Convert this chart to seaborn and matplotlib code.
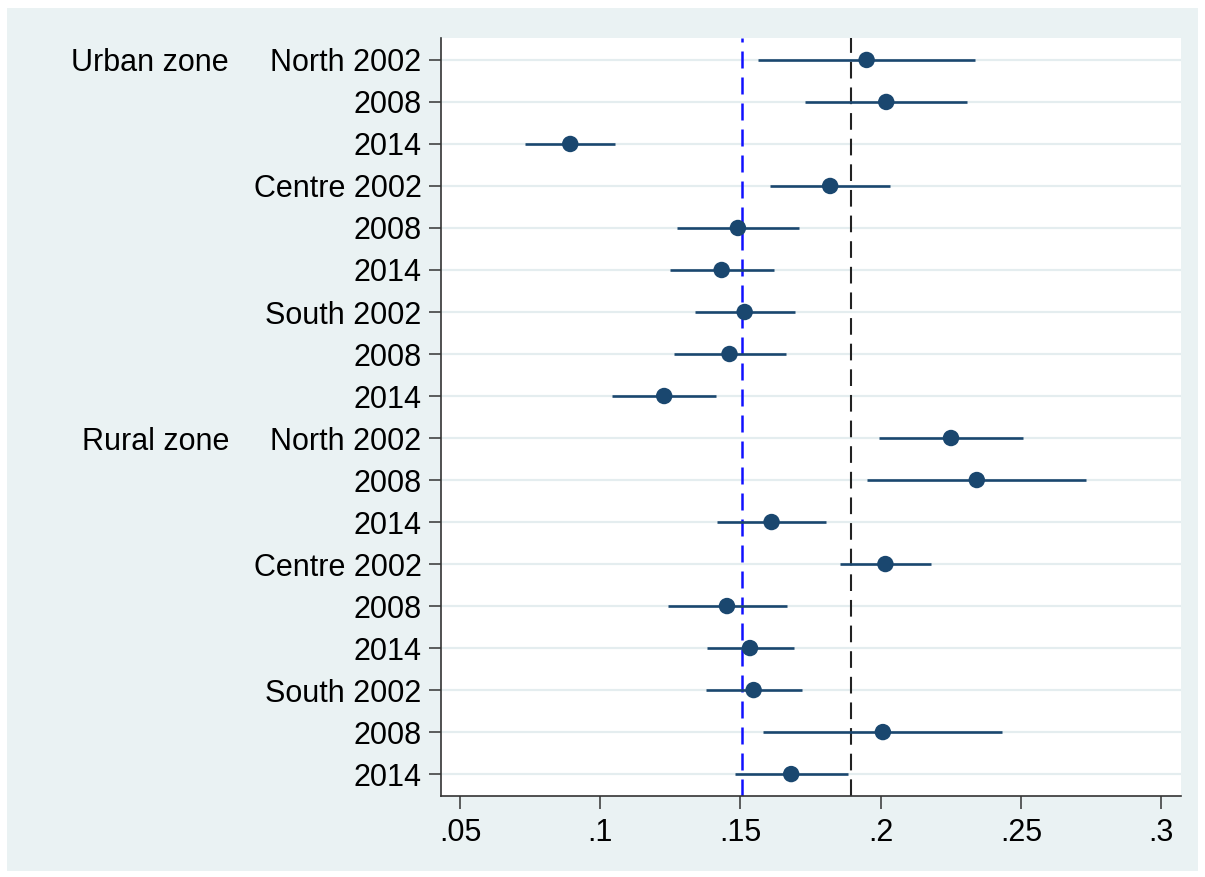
import numpy as np
import pandas as pd
import seaborn as sns
import matplotlib.pyplot as plt
from matplotlib.patches import Rectangle
from matplotlib.transforms import blended_transform_factory

# Estimates and 95% CI bounds (top to bottom)
zones = ['Urban zone'] * 9 + ['Rural zone'] * 9
labels = ['North 2002', '2008', '2014', 'Centre 2002', '2008', '2014',
          'South 2002', '2008', '2014'] * 2
estimate = [0.1950, 0.2020, 0.0893, 0.1820, 0.1491, 0.1433, 0.1515, 0.1461, 0.1228,
            0.2251, 0.2343, 0.1611, 0.2017, 0.1452, 0.1534, 0.1547, 0.2008, 0.1681]
ci_low = [0.1564, 0.1732, 0.0730, 0.1606, 0.1275, 0.1249, 0.1338, 0.1264, 0.1043,
          0.1994, 0.1952, 0.1417, 0.1855, 0.1242, 0.1382, 0.1378, 0.1581, 0.1479]
ci_high = [0.2336, 0.2307, 0.1054, 0.2034, 0.1708, 0.1619, 0.1696, 0.1661, 0.1413,
           0.2509, 0.2733, 0.1804, 0.2180, 0.1666, 0.1690, 0.1718, 0.2433, 0.1884]
ref_blue = 0.1506
ref_black = 0.1896
xticks = [0.05, 0.1, 0.15, 0.2, 0.25, 0.3]
xtick_labels = ['.05', '.1', '.15', '.2', '.25', '.3']

df = pd.DataFrame({'zone': zones, 'label': labels, 'est': estimate,
                   'lo': ci_low, 'hi': ci_high})
df['row'] = np.arange(len(df))

sns.set_style('white')
plt.rcParams['font.family'] = ['Liberation Sans', 'DejaVu Sans']

navy = '#1A476F'
bg = '#EAF2F3'
fs = 22

fig = plt.figure(figsize=(12.05, 8.77), dpi=100, facecolor='white')
bg_rect = Rectangle((7 / 1205, 6 / 877), 1191 / 1205, 863 / 877,
                    transform=fig.transFigure, facecolor=bg,
                    edgecolor='none', zorder=-10)
fig.add_artist(bg_rect)
ax = fig.add_axes([441 / 1205, 1 - 795.5 / 877, 739.5 / 1205, 757.8 / 877])
ax.set_zorder(1)
ax.set_facecolor('white')

# light horizontal grid at each row
for r in df['row']:
    ax.axhline(r, color='#E4EDEF', lw=1.6, zorder=1)

ax.axvline(ref_blue, color='#1010FF', lw=1.8, dashes=(6.8, 3.6), zorder=2)
ax.axvline(ref_black, color='#222222', lw=1.5, dashes=(8.0, 4.3), zorder=2)

ax.hlines(df['row'], df['lo'], df['hi'], color=navy, lw=1.9, zorder=3)
sns.scatterplot(data=df, x='est', y='row', ax=ax, color=navy, s=140,
                edgecolor='none', zorder=4, legend=False)

ax.set_xlim(0.0432, 0.30695)
ax.set_ylim(17.51, -0.53)
ax.set_xticks(xticks)
ax.set_xticklabels(xtick_labels)
ax.set_yticks(df['row'])
ax.set_yticklabels(df['label'])
ax.set_xlabel('')
ax.set_ylabel('')

for side in ['top', 'right']:
    ax.spines[side].set_visible(False)
for side in ['left', 'bottom']:
    ax.spines[side].set_color('#333333')
    ax.spines[side].set_linewidth(1.2)

ax.tick_params(axis='both', which='major', labelsize=fs, length=9, width=1.1,
               color='#333333', labelcolor='black')
ax.tick_params(axis='y', pad=5, left=True)
ax.tick_params(axis='x', pad=7, bottom=True)

# zone group labels to the left of the tick labels
trans = blended_transform_factory(fig.transFigure, ax.transData)
for zone in ['Urban zone', 'Rural zone']:
    r = df.loc[df['zone'] == zone, 'row'].iloc[0]
    ax.text(229 / 1205, r, zone, transform=trans, ha='right',
            va='center_baseline', fontsize=fs, color='black')

plt.savefig('out.png', dpi=100, facecolor=fig.get_facecolor())
